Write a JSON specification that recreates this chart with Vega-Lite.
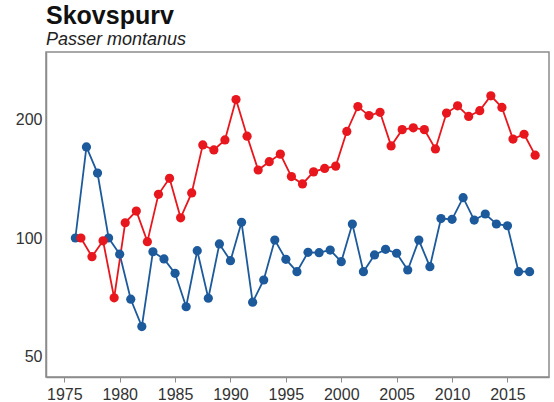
{
  "$schema": "https://vega.github.io/schema/vega-lite/v6.json",
  "width": 503,
  "height": 325,
  "autosize": {"type": "none"},
  "padding": {"left": 46, "top": 52, "right": 5, "bottom": 25},
  "background": "white",
  "title": {
    "text": "Skovspurv",
    "subtitle": "Passer montanus",
    "anchor": "start",
    "frame": "group",
    "font": "Liberation Sans",
    "fontSize": 25,
    "fontWeight": "bold",
    "color": "#111111",
    "subtitleFont": "Liberation Sans",
    "subtitleFontSize": 18,
    "subtitleFontStyle": "italic",
    "subtitleColor": "#222222",
    "subtitlePadding": 2,
    "offset": 3
  },
  "config": {
    "view": {"stroke": "#8c8c8c", "strokeWidth": 1.5},
    "axis": {
      "labelFont": "Liberation Sans",
      "labelFontSize": 16,
      "labelColor": "#333333",
      "domainColor": "#8c8c8c",
      "domainWidth": 1.5,
      "tickColor": "#8c8c8c",
      "grid": false,
      "title": null
    }
  },
  "data": {
    "values": [
      {"year": 1976, "value": 100, "series": "B"},
      {"year": 1977, "value": 170, "series": "B"},
      {"year": 1978, "value": 146, "series": "B"},
      {"year": 1979, "value": 100, "series": "B"},
      {"year": 1980, "value": 91, "series": "B"},
      {"year": 1981, "value": 70, "series": "B"},
      {"year": 1982, "value": 59.7, "series": "B"},
      {"year": 1983, "value": 92.3, "series": "B"},
      {"year": 1984, "value": 88.5, "series": "B"},
      {"year": 1985, "value": 81.4, "series": "B"},
      {"year": 1986, "value": 67, "series": "B"},
      {"year": 1987, "value": 92.9, "series": "B"},
      {"year": 1988, "value": 70.4, "series": "B"},
      {"year": 1989, "value": 96.6, "series": "B"},
      {"year": 1990, "value": 87.6, "series": "B"},
      {"year": 1991, "value": 109.6, "series": "B"},
      {"year": 1992, "value": 68.8, "series": "B"},
      {"year": 1993, "value": 78.3, "series": "B"},
      {"year": 1994, "value": 98.8, "series": "B"},
      {"year": 1995, "value": 88.3, "series": "B"},
      {"year": 1996, "value": 82.2, "series": "B"},
      {"year": 1997, "value": 92, "series": "B"},
      {"year": 1998, "value": 91.8, "series": "B"},
      {"year": 1999, "value": 93.2, "series": "B"},
      {"year": 2000, "value": 87.1, "series": "B"},
      {"year": 2001, "value": 108.5, "series": "B"},
      {"year": 2002, "value": 82.2, "series": "B"},
      {"year": 2003, "value": 90.6, "series": "B"},
      {"year": 2004, "value": 93.6, "series": "B"},
      {"year": 2005, "value": 91.5, "series": "B"},
      {"year": 2006, "value": 83, "series": "B"},
      {"year": 2007, "value": 98.8, "series": "B"},
      {"year": 2008, "value": 84.6, "series": "B"},
      {"year": 2009, "value": 112, "series": "B"},
      {"year": 2010, "value": 111.5, "series": "B"},
      {"year": 2011, "value": 126.5, "series": "B"},
      {"year": 2012, "value": 111, "series": "B"},
      {"year": 2013, "value": 115, "series": "B"},
      {"year": 2014, "value": 108.5, "series": "B"},
      {"year": 2015, "value": 107.4, "series": "B"},
      {"year": 2016, "value": 82.2, "series": "B"},
      {"year": 2017, "value": 82.2, "series": "B"},
      {"year": 1976.5, "value": 100, "series": "A"},
      {"year": 1977.5, "value": 89.7, "series": "A"},
      {"year": 1978.5, "value": 98.4, "series": "A"},
      {"year": 1979.5, "value": 70.6, "series": "A"},
      {"year": 1980.5, "value": 109.3, "series": "A"},
      {"year": 1981.5, "value": 117, "series": "A"},
      {"year": 1982.5, "value": 97.9, "series": "A"},
      {"year": 1983.5, "value": 129, "series": "A"},
      {"year": 1984.5, "value": 141.6, "series": "A"},
      {"year": 1985.5, "value": 112.5, "series": "A"},
      {"year": 1986.5, "value": 130, "series": "A"},
      {"year": 1987.5, "value": 172, "series": "A"},
      {"year": 1988.5, "value": 167, "series": "A"},
      {"year": 1989.5, "value": 177, "series": "A"},
      {"year": 1990.5, "value": 224, "series": "A"},
      {"year": 1991.5, "value": 181, "series": "A"},
      {"year": 1992.5, "value": 148.6, "series": "A"},
      {"year": 1993.5, "value": 156, "series": "A"},
      {"year": 1994.5, "value": 163, "series": "A"},
      {"year": 1995.5, "value": 143, "series": "A"},
      {"year": 1996.5, "value": 137, "series": "A"},
      {"year": 1997.5, "value": 147, "series": "A"},
      {"year": 1998.5, "value": 150, "series": "A"},
      {"year": 1999.5, "value": 152, "series": "A"},
      {"year": 2000.5, "value": 186, "series": "A"},
      {"year": 2001.5, "value": 215, "series": "A"},
      {"year": 2002.5, "value": 204, "series": "A"},
      {"year": 2003.5, "value": 208, "series": "A"},
      {"year": 2004.5, "value": 171, "series": "A"},
      {"year": 2005.5, "value": 188, "series": "A"},
      {"year": 2006.5, "value": 190, "series": "A"},
      {"year": 2007.5, "value": 188, "series": "A"},
      {"year": 2008.5, "value": 168, "series": "A"},
      {"year": 2009.5, "value": 207, "series": "A"},
      {"year": 2010.5, "value": 216, "series": "A"},
      {"year": 2011.5, "value": 203, "series": "A"},
      {"year": 2012.5, "value": 210, "series": "A"},
      {"year": 2013.5, "value": 229, "series": "A"},
      {"year": 2014.5, "value": 214, "series": "A"},
      {"year": 2015.5, "value": 178, "series": "A"},
      {"year": 2016.5, "value": 183, "series": "A"},
      {"year": 2017.5, "value": 162, "series": "A"}
    ]
  },
  "mark": {
    "type": "line",
    "strokeWidth": 1.8,
    "point": {"filled": true, "size": 85, "opacity": 1}
  },
  "encoding": {
    "x": {
      "field": "year",
      "type": "quantitative",
      "scale": {"domain": [1973.35, 2018.75], "nice": false, "zero": false},
      "axis": {
        "values": [1975, 1980, 1985, 1990, 1995, 2000, 2005, 2010, 2015],
        "format": "d",
        "tickSize": 5,
        "labelPadding": 4
      }
    },
    "y": {
      "field": "value",
      "type": "quantitative",
      "scale": {"type": "log", "domain": [44.5, 295.5], "nice": false},
      "axis": {
        "values": [50, 100, 200],
        "format": "d",
        "ticks": false,
        "labelPadding": 4
      }
    },
    "color": {
      "field": "series",
      "type": "nominal",
      "scale": {"domain": ["A", "B"], "range": ["#e8171e", "#1d5a9c"]},
      "legend": null
    },
    "detail": {"field": "series"}
  }
}
